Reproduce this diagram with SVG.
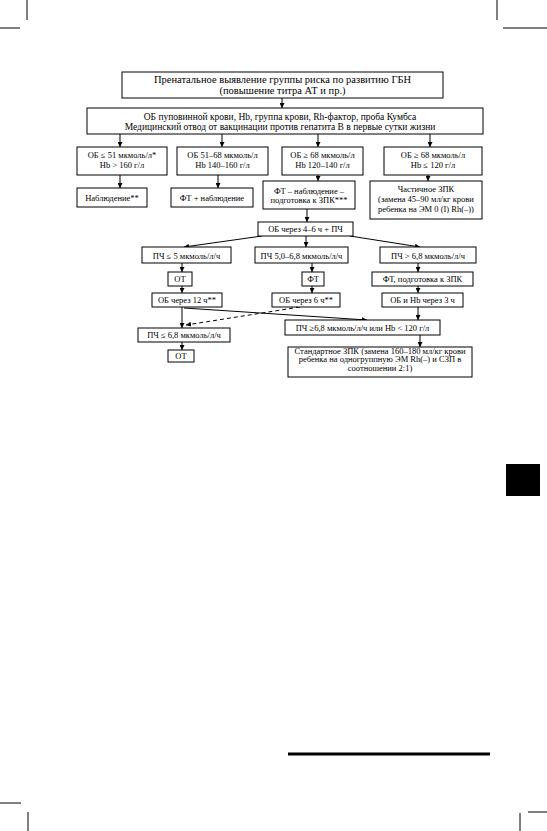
<svg xmlns="http://www.w3.org/2000/svg" width="547" height="831" viewBox="0 0 547 831">
<style>
.bx{fill:#fff;stroke:#000;stroke-width:1}
.t{font-family:"Liberation Serif","DejaVu Serif",serif;font-size:8.5px;text-anchor:middle;fill:#000}
.big{font-size:10.5px}
.mid{font-size:9.5px}
.c{stroke:#000;stroke-width:1;fill:none;marker-end:url(#ah)}
.d{stroke-dasharray:4 3}
.pm{stroke:#000;stroke-width:1}
</style>
<defs>
<marker id="ah" markerWidth="5" markerHeight="5" refX="5" refY="2.5" orient="auto" markerUnits="userSpaceOnUse">
<path d="M0,0 L5,2.5 L0,5 z" fill="#000"/>
</marker>
</defs>
<rect width="547" height="831" fill="#fff"/>
<g id="page-marks">
<line class="pm" x1="27" y1="0" x2="27" y2="20"/>
<line class="pm" x1="0" y1="28" x2="20" y2="28"/>
<line class="pm" x1="497" y1="0" x2="497" y2="20"/>
<line class="pm" x1="503" y1="28" x2="547" y2="28"/>
<line class="pm" x1="0" y1="803" x2="21" y2="803"/>
<line class="pm" x1="28" y1="812" x2="28" y2="831"/>
<line class="pm" x1="528" y1="812" x2="547" y2="812"/>
<line class="pm" x1="520" y1="813" x2="520" y2="831"/>
<rect x="506" y="464" width="34" height="32" fill="#000"/>
<line x1="288" y1="754" x2="490" y2="754" stroke="#000" stroke-width="3"/>
</g>
<g id="connectors">
<line class="c" x1="282" y1="98" x2="282" y2="108"/>
<line class="c" x1="120" y1="134" x2="120" y2="147"/>
<line class="c" x1="222" y1="134" x2="222" y2="147"/>
<line class="c" x1="318" y1="134" x2="318" y2="147"/>
<line class="c" x1="430" y1="134" x2="430" y2="147"/>
<line class="c" x1="120" y1="175" x2="120" y2="188"/>
<line class="c" x1="218" y1="175" x2="218" y2="188"/>
<line class="c" x1="318" y1="175" x2="318" y2="181"/>
<line class="c" x1="428" y1="175" x2="428" y2="181"/>
<line class="c" x1="307" y1="209" x2="307" y2="222"/>
<line class="c" x1="262" y1="236" x2="184" y2="247"/>
<line class="c" x1="306" y1="236" x2="306" y2="247"/>
<line class="c" x1="350" y1="236" x2="420" y2="247"/>
<line class="c" x1="182" y1="263" x2="182" y2="272"/>
<line class="c" x1="312" y1="263" x2="312" y2="272"/>
<line class="c" x1="418" y1="263" x2="418" y2="272"/>
<line class="c" x1="182" y1="286" x2="182" y2="293"/>
<line class="c" x1="312" y1="286" x2="312" y2="293"/>
<line class="c" x1="418" y1="286" x2="418" y2="293"/>
<line class="c" x1="182" y1="307" x2="182" y2="328"/>
<line class="c" x1="184" y1="308" x2="367" y2="320"/>
<line class="c d" x1="300" y1="307" x2="186" y2="325"/>
<line class="c" x1="418" y1="307" x2="418" y2="320"/>
<line class="c" x1="182" y1="342" x2="182" y2="350"/>
<line class="c" x1="420" y1="335" x2="420" y2="347"/>
</g>
<g id="n-prenatal">
<rect class="bx" x="122" y="72" width="321" height="26"/>
<text class="t big" x="282.5" y="83">Пренатальное выявление группы риска по развитию ГБН</text>
<text class="t big" x="282.5" y="94">(повышение титра АТ и пр.)</text>
</g>
<g id="n-exam">
<rect class="bx" x="87" y="108" width="396" height="26"/>
<text class="t mid" x="280" y="120">ОБ пуповинной крови, Hb, группа крови, Rh-фактор, проба Кумбса</text>
<text class="t mid" x="280" y="130">Медицинский отвод от вакцинации против гепатита В в первые сутки жизни</text>
</g>
<g id="n-r3a">
<rect class="bx" x="77" y="147" width="90" height="28"/>
<text class="t" x="122" y="158">ОБ ≤ 51 мкмоль/л*</text>
<text class="t" x="122" y="168">Hb &gt; 160 г/л</text>
</g>
<g id="n-r3b">
<rect class="bx" x="177" y="147" width="91" height="28"/>
<text class="t" x="222.5" y="158">ОБ 51–68 мкмоль/л</text>
<text class="t" x="222.5" y="168">Hb 140–160 г/л</text>
</g>
<g id="n-r3c">
<rect class="bx" x="282" y="147" width="81" height="28"/>
<text class="t" x="322.5" y="158">ОБ ≥ 68 мкмоль/л</text>
<text class="t" x="322.5" y="168">Hb 120–140 г/л</text>
</g>
<g id="n-r3d">
<rect class="bx" x="384" y="147" width="98" height="28"/>
<text class="t" x="433" y="158">ОБ ≥ 68 мкмоль/л</text>
<text class="t" x="433" y="168">Hb ≤ 120 г/л</text>
</g>
<g id="n-r4a">
<rect class="bx" x="77" y="188" width="70" height="19"/>
<text class="t" x="112" y="201">Наблюдение**</text>
</g>
<g id="n-r4b">
<rect class="bx" x="171" y="188" width="82" height="19"/>
<text class="t" x="212" y="201">ФТ + наблюдение</text>
</g>
<g id="n-r4c">
<rect class="bx" x="263" y="181" width="92" height="28"/>
<text class="t" x="309" y="194">ФТ – наблюдение –</text>
<text class="t" x="309" y="203">подготовка к ЗПК***</text>
</g>
<g id="n-r4d">
<rect class="bx" x="370" y="181" width="112" height="38"/>
<text class="t" x="426" y="192">Частичное ЗПК</text>
<text class="t" x="426" y="202">(замена 45–90 мл/кг крови</text>
<text class="t" x="426" y="212">ребенка на ЭМ 0 (I) Rh(–))</text>
</g>
<g id="n-ob46">
<rect class="bx" x="258" y="222" width="95" height="14"/>
<text class="t" x="305.5" y="232">ОБ через 4–6 ч + ПЧ</text>
</g>
<g id="n-r6a">
<rect class="bx" x="142" y="247" width="89" height="16"/>
<text class="t" x="186.5" y="258.5">ПЧ ≤ 5 мкмоль/л/ч</text>
</g>
<g id="n-r6b">
<rect class="bx" x="255" y="247" width="93" height="16"/>
<text class="t" x="301.5" y="258.5">ПЧ 5,0–6,8 мкмоль/л/ч</text>
</g>
<g id="n-r6c">
<rect class="bx" x="380" y="247" width="96" height="16"/>
<text class="t" x="428" y="258.5">ПЧ &gt; 6,8 мкмоль/л/ч</text>
</g>
<g id="n-r7a">
<rect class="bx" x="168" y="272" width="24" height="14"/>
<text class="t" x="180" y="282">ОТ</text>
</g>
<g id="n-r7b">
<rect class="bx" x="302" y="272" width="22" height="14"/>
<text class="t" x="313" y="282">ФТ</text>
</g>
<g id="n-r7c">
<rect class="bx" x="372" y="272" width="101" height="14"/>
<text class="t" x="422.5" y="282">ФТ, подготовка к ЗПК</text>
</g>
<g id="n-r8a">
<rect class="bx" x="152" y="293" width="70" height="14"/>
<text class="t" x="187" y="303">ОБ через 12 ч**</text>
</g>
<g id="n-r8b">
<rect class="bx" x="272" y="293" width="68" height="14"/>
<text class="t" x="306" y="303">ОБ через 6 ч**</text>
</g>
<g id="n-r8c">
<rect class="bx" x="382" y="293" width="81" height="14"/>
<text class="t" x="422.5" y="303">ОБ и Hb через 3 ч</text>
</g>
<g id="n-r9a">
<rect class="bx" x="138" y="328" width="92" height="14"/>
<text class="t" x="184" y="338">ПЧ ≤ 6,8 мкмоль/л/ч</text>
</g>
<g id="n-r9b">
<rect class="bx" x="285" y="320" width="155" height="15"/>
<text class="t" x="362.5" y="331">ПЧ ≥6,8 мкмоль/л/ч или Hb &lt; 120 г/л</text>
</g>
<g id="n-r10a">
<rect class="bx" x="168" y="350" width="26" height="12"/>
<text class="t" x="181" y="359">ОТ</text>
</g>
<g id="n-r10b">
<rect class="bx" x="288" y="347" width="184" height="30"/>
<text class="t" x="380" y="353.5">Стандартное ЗПК (замена 160–180 мл/кг крови</text>
<text class="t" x="380" y="362">ребенка на одногруппную ЭМ Rh(–) и СЗП в</text>
<text class="t" x="380" y="370.5">соотношении 2:1)</text>
</g>
</svg>
